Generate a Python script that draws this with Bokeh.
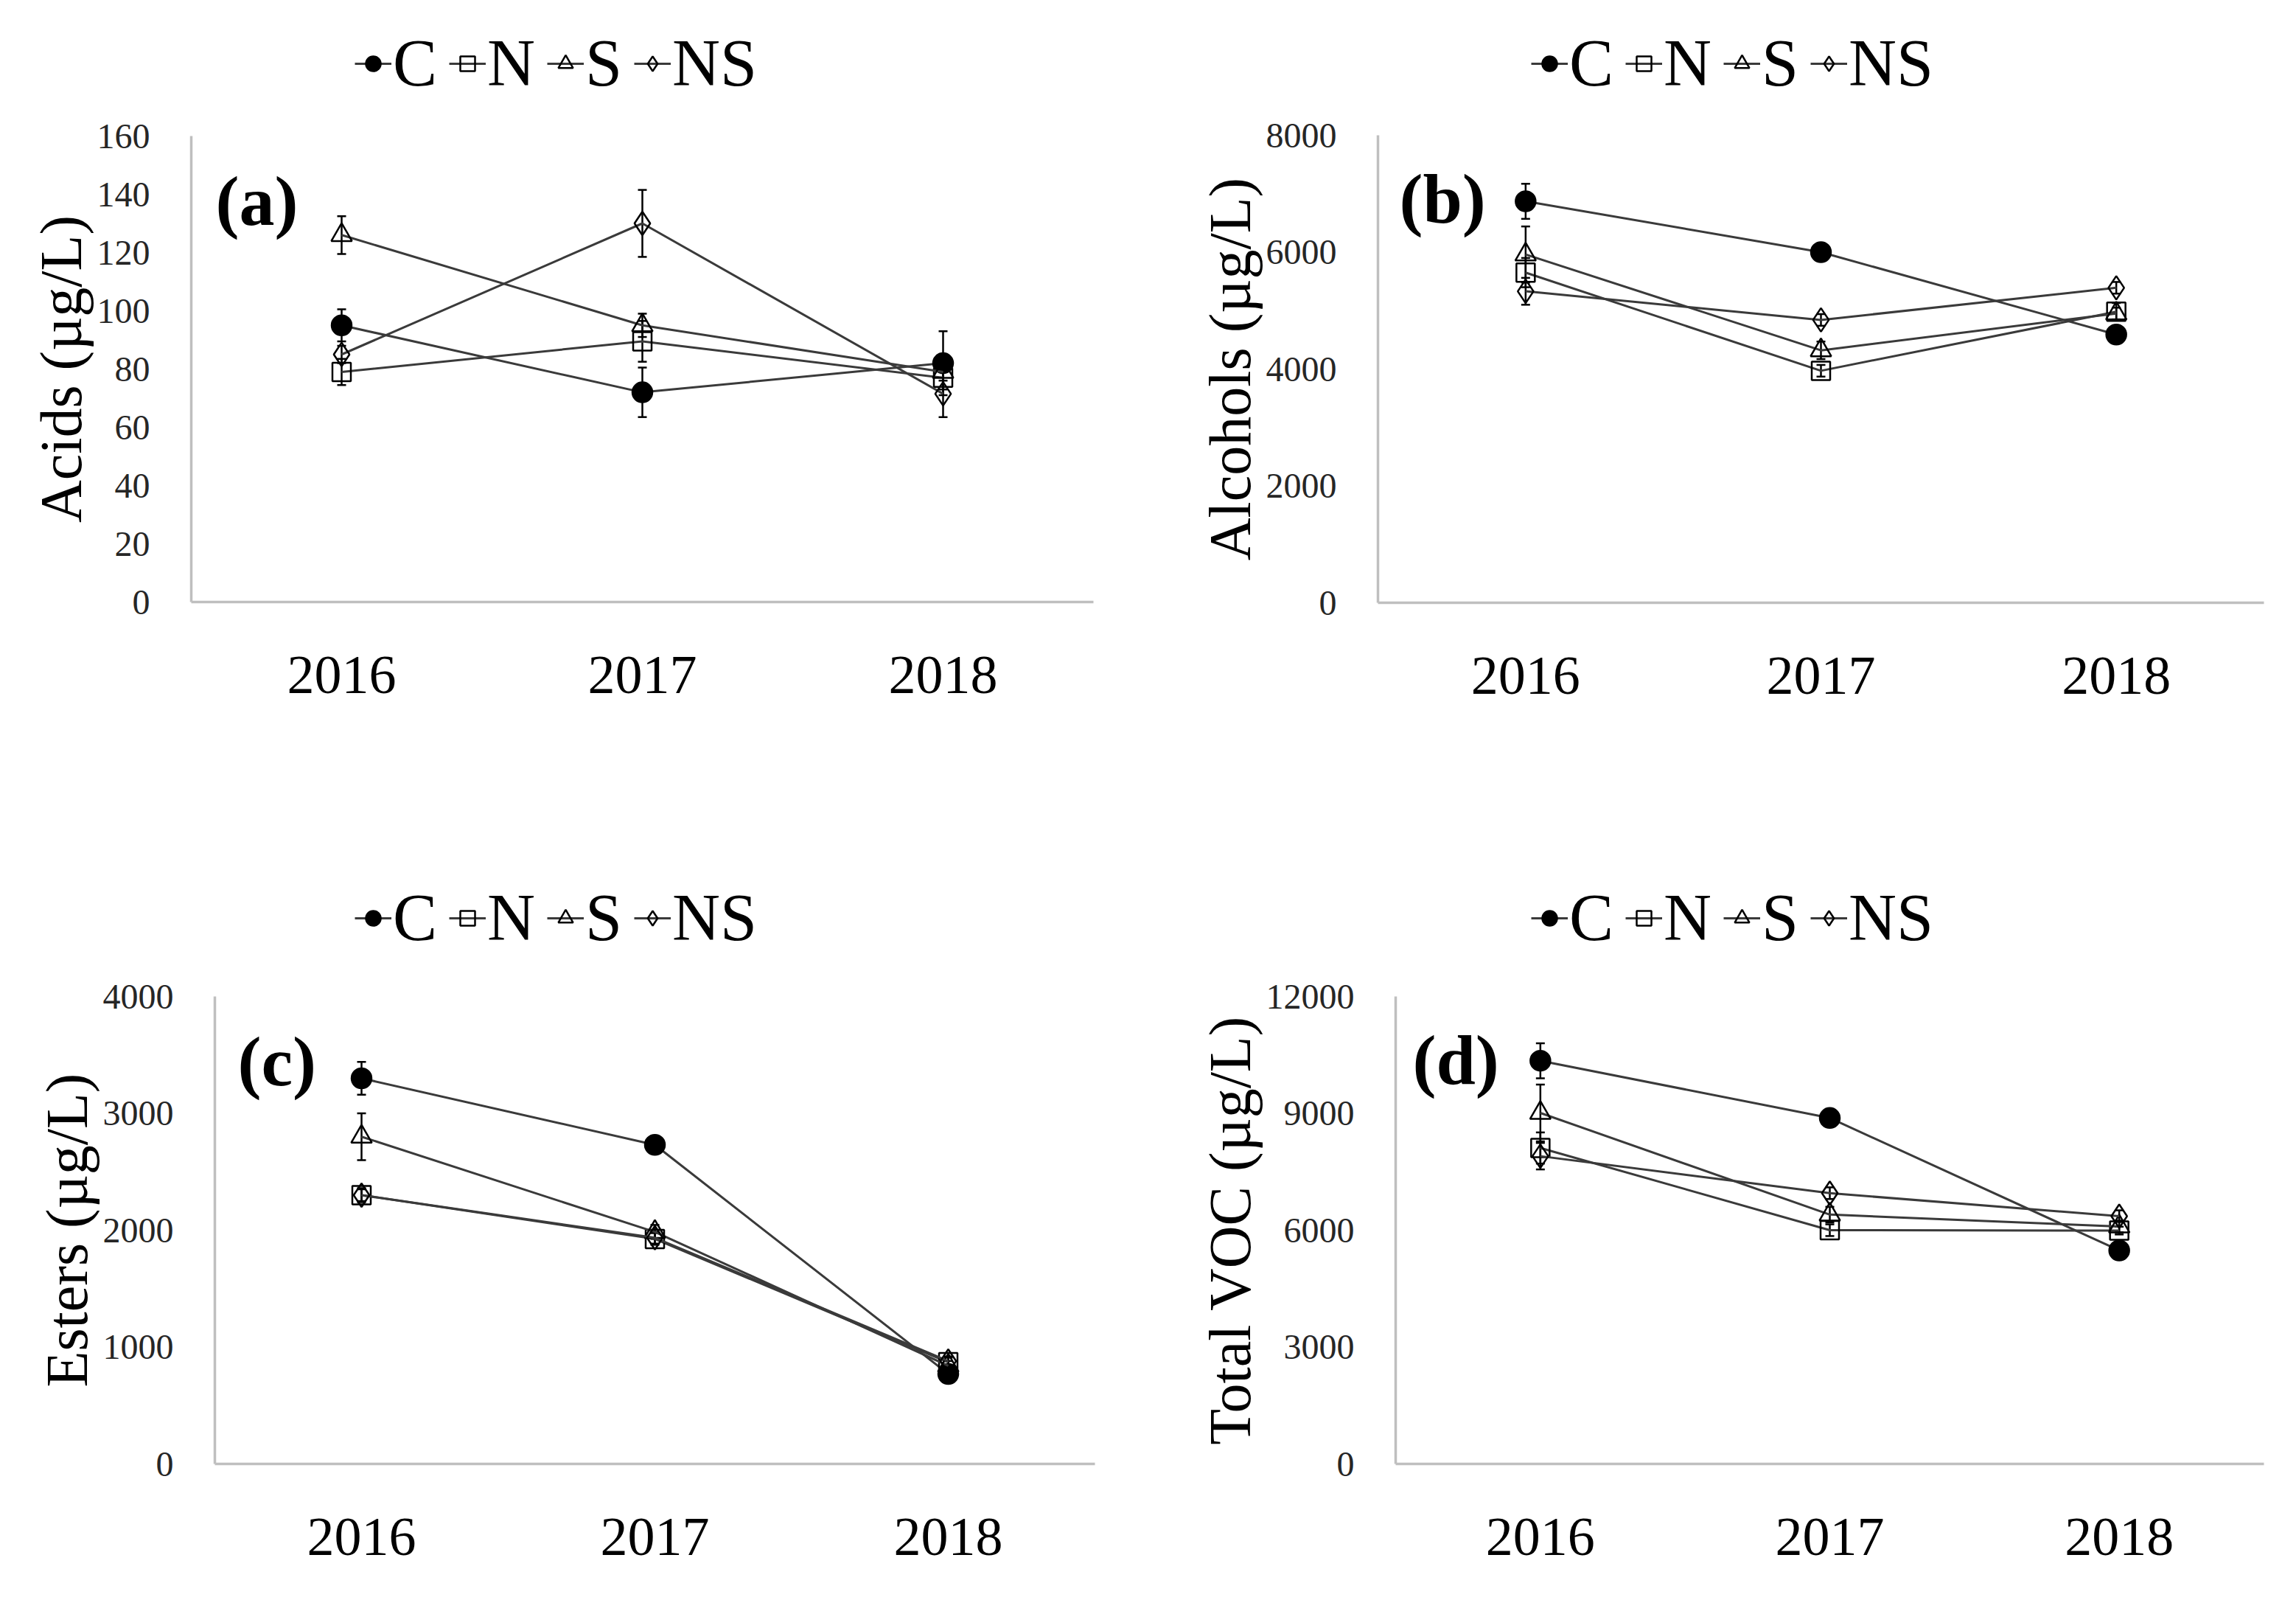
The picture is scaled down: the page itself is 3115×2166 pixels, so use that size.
from bokeh.plotting import figure
from bokeh.models import (FactorRange, Range1d, FixedTicker, ColumnDataSource, Whisker, TeeHead,
                          Legend, LegendItem, Label)
from bokeh.layouts import column, row
from bokeh.embed import file_html
from bokeh.resources import INLINE

years = ["2016", "2017", "2018"]
series = ["C", "N", "S", "NS"]

# (a) Acids
acids_C = [95, 72, 82]
acids_N = [79, 89.5, 77]
acids_S = [126, 95, 79]
acids_NS = [85, 130, 71.5]
acids_C_err = [5.5, 8.5, 11]
acids_N_err = [4.5, 7, 4]
acids_S_err = [6.5, 4, 3]
acids_NS_err = [3, 11.5, 8]
acids_ticks = [0, 20, 40, 60, 80, 100, 120, 140, 160]

# (b) Alcohols
alc_C = [6870, 6000, 4590]
alc_N = [5650, 3970, 4980]
alc_S = [5960, 4320, 4950]
alc_NS = [5330, 4840, 5390]
alc_C_err = [300, 80, 150]
alc_N_err = [250, 100, 150]
alc_S_err = [480, 150, 100]
alc_NS_err = [230, 100, 100]
alc_ticks = [0, 2000, 4000, 6000, 8000]

# (c) Esters
est_C = [3300, 2730, 770]
est_N = [2300, 1925, 870]
est_S = [2800, 1985, 840]
est_NS = [2300, 1935, 880]
est_C_err = [140, 60, 40]
est_N_err = [60, 50, 40]
est_S_err = [200, 60, 40]
est_NS_err = [50, 50, 40]
est_ticks = [0, 1000, 2000, 3000, 4000]

# (d) Total VOC
voc_C = [10350, 8880, 5480]
voc_N = [8110, 6000, 5990]
voc_S = [9010, 6400, 6095]
voc_NS = [7900, 6950, 6360]
voc_C_err = [450, 100, 150]
voc_N_err = [400, 150, 100]
voc_S_err = [730, 200, 150]
voc_NS_err = [340, 150, 150]
voc_ticks = [0, 3000, 6000, 9000, 12000]

SERIF = "Liberation Serif"
LINE_COLOR = "#3a3a3a"

marker_styles = {
    "C": dict(marker="circle", size=27, fill_color="black", fill_alpha=1.0),
    "N": dict(marker="square", size=25, fill_color="white", fill_alpha=0.0),
    "S": dict(marker="triangle", size=28, fill_color="white", fill_alpha=0.0),
    "NS": dict(marker="diamond", size=32, fill_color="white", fill_alpha=0.0),
}


def make_legend_fig(W, H, leg_xy):
    f = figure(width=W, height=H, x_range=Range1d(0, 1), y_range=Range1d(0, 1),
               x_axis_type=None, y_axis_type=None,
               output_backend="svg", toolbar_location=None,
               min_border_left=0, min_border_right=0,
               min_border_top=0, min_border_bottom=0)
    f.xgrid.visible = False
    f.ygrid.visible = False
    f.outline_line_color = None
    items = []
    for name in series:
        st = marker_styles[name]
        # points outside the visible range: only the legend glyph shows
        src = ColumnDataSource(dict(x=[-5.0, -4.0], y=[-5.0, -5.0]))
        lr = f.line("x", "y", source=src, line_color=LINE_COLOR, line_width=3)
        sr = f.scatter("x", "y", source=src, marker=st["marker"], size=st["size"],
                       fill_color=st["fill_color"], fill_alpha=st["fill_alpha"],
                       line_color="black", line_width=2.5)
        items.append(LegendItem(label=name, renderers=[lr, sr], index=0))
    leg = Legend(items=items, orientation="horizontal", location=leg_xy,
                 label_text_font=SERIF, label_text_font_size="90px",
                 label_text_color="black",
                 glyph_width=50, glyph_height=60, spacing=16, label_standoff=2,
                 padding=0, margin=0, border_line_color=None,
                 background_fill_alpha=0.0)
    f.add_layout(leg)
    return f


def make_panel(tag, ylabel, ticks, vals, errs, W, H, bl, br, bt, bb, tag_xy):
    p = figure(width=W, height=H, x_range=FactorRange(factors=years),
               y_range=Range1d(ticks[0], ticks[-1]),
               output_backend="svg", toolbar_location=None,
               min_border_left=bl, min_border_right=br,
               min_border_top=bt, min_border_bottom=bb)
    p.xgrid.visible = False
    p.ygrid.visible = False
    p.outline_line_color = None
    p.background_fill_color = "white"

    for name, v, e in zip(series, vals, errs):
        src = ColumnDataSource(dict(x=years, y=v,
                                    upper=[a + b for a, b in zip(v, e)],
                                    lower=[a - b for a, b in zip(v, e)]))
        p.line("x", "y", source=src, line_color=LINE_COLOR, line_width=3)
        wk = Whisker(source=src, base="x", upper="upper", lower="lower",
                     dimension="height", line_color="black", line_width=2.5,
                     upper_head=TeeHead(size=12, line_width=2.5, line_color="black"),
                     lower_head=TeeHead(size=12, line_width=2.5, line_color="black"))
        p.add_layout(wk)
        st = marker_styles[name]
        p.scatter("x", "y", source=src, marker=st["marker"], size=st["size"],
                  fill_color=st["fill_color"], fill_alpha=st["fill_alpha"],
                  line_color="black", line_width=2.5)

    p.add_layout(Label(x=tag_xy[0], y=tag_xy[1], x_units="screen", y_units="screen",
                       text=tag, text_font=SERIF, text_font_style="bold",
                       text_font_size="96px", text_baseline="middle",
                       text_align="left", text_color="black"))

    for ax in (p.xaxis[0], p.yaxis[0]):
        ax.axis_line_color = "#bfbfbf"
        ax.axis_line_width = 3.5
        ax.major_tick_line_color = None
        ax.minor_tick_line_color = None

    xa = p.xaxis[0]
    xa.major_label_text_font = SERIF
    xa.major_label_text_font_size = "74px"
    xa.major_label_text_color = "black"
    xa.major_label_standoff = 68

    ya = p.yaxis[0]
    ya.ticker = FixedTicker(ticks=ticks)
    ya.major_label_text_font = SERIF
    ya.major_label_text_font_size = "48px"
    ya.major_label_text_color = "#262626"
    ya.major_label_standoff = 50
    ya.axis_label = ylabel
    ya.axis_label_text_font = SERIF
    ya.axis_label_text_font_style = "normal"
    ya.axis_label_text_font_size = "80px"
    ya.axis_label_text_color = "black"
    ya.axis_label_standoff = 2
    return p


W = 1545
# legend frames are aligned with the plot frames below them
la = make_legend_fig(W, 150, (222, 13))
lb = make_legend_fig(W, 150, (208, 13))
lc = make_legend_fig(W, 245, (190, 19))
ld = make_legend_fig(W, 245, (184, 19))

pa = make_panel("(a)", "Acids (µg/L)", acids_ticks,
                [acids_C, acids_N, acids_S, acids_NS],
                [acids_C_err, acids_N_err, acids_S_err, acids_NS_err],
                W, 920, 259, 62, 34, 254, (33, 544))
pb = make_panel("(b)", "Alcohols (µg/L)", alc_ticks,
                [alc_C, alc_N, alc_S, alc_NS],
                [alc_C_err, alc_N_err, alc_S_err, alc_NS_err],
                W, 920, 324, 19, 33, 253, (29, 548))
pc = make_panel("(c)", "Esters (µg/L)", est_ticks,
                [est_C, est_N, est_S, est_NS],
                [est_C_err, est_N_err, est_S_err, est_NS_err],
                W, 833, 291, 60, 36, 163, (31, 546))
pd_ = make_panel("(d)", "Total VOC (µg/L)", voc_ticks,
                 [voc_C, voc_N, voc_S, voc_NS],
                 [voc_C_err, voc_N_err, voc_S_err, voc_NS_err],
                 W, 833, 348, 19, 36, 163, (23, 548))

layout = column(row(column(la, pa), column(lb, pb)),
                row(column(lc, pc), column(ld, pd_)))
open("out.html", "w").write(file_html(layout, INLINE))
